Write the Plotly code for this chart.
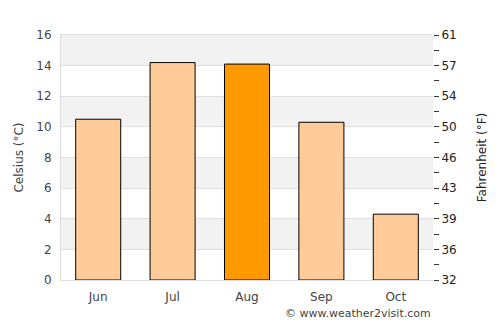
import plotly.graph_objects as go

months = ["Jun", "Jul", "Aug", "Sep", "Oct"]
celsius = [10.5, 14.2, 14.1, 10.3, 4.3]
highlight = "Aug"
c_ticks = [0, 2, 4, 6, 8, 10, 12, 14, 16]
f_labels = ["32", "36", "39", "43", "46", "50", "54", "57", "61"]

light = "#ffcc99"
dark = "#ff9900"
colors = [dark if m == highlight else light for m in months]

fig = go.Figure()
fig.add_trace(go.Bar(x=months, y=celsius, marker=dict(color=colors, line=dict(color="black", width=1)),
                     hoverinfo="skip", showlegend=False))
fig.add_trace(go.Scatter(x=months, y=[c * 1.8 + 32 for c in celsius], yaxis="y2", mode="markers",
                         marker=dict(opacity=0), hoverinfo="skip", showlegend=False))

shapes = []
for lo in range(2, 16, 4):
    shapes.append(dict(type="rect", xref="paper", yref="y", x0=0, x1=1, y0=lo, y1=lo + 2,
                       fillcolor="#f2f2f2", line=dict(width=0), layer="below"))

font = dict(family="DejaVu Sans", size=12, color="#444444")
fig.update_layout(
    width=500, height=325,
    margin=dict(l=61, r=67, t=35, b=45),
    paper_bgcolor="white", plot_bgcolor="white",
    font=font,
    bargap=0.395,
    shapes=shapes,
    xaxis=dict(showline=True, linecolor="#dddddd", mirror=True, ticks="", showgrid=False,
               tickfont=dict(size=12, color="#444444"), ticklabelstandoff=6),
    yaxis=dict(range=[0, 16], tickvals=c_ticks, showgrid=True, gridcolor="#e0e0e0",
               showline=True, linecolor="#dddddd", zeroline=False,
               title=dict(text="Celsius (°C)", standoff=10, font=dict(size=12, color="#444444")),
               tickfont=dict(size=12, color="#444444"), ticklabelstandoff=6),
    yaxis2=dict(overlaying="y", side="right", range=[32, 60.8],
                tickvals=[c * 1.8 + 32 for c in c_ticks], ticktext=f_labels,
                showgrid=False, zeroline=False, ticks="outside", ticklen=5, tickcolor="#333333",
                minor=dict(tickvals=[c * 1.8 + 32 for c in range(1, 16, 2)], ticks="outside",
                           ticklen=5, tickcolor="#333333"),
                title=dict(text="Fahrenheit (°F)", standoff=21, font=dict(size=12, color="#222222")),
                tickfont=dict(size=12, color="#222222")),
    annotations=[dict(text="© www.weather2visit.com", xref="paper", yref="paper", x=1, y=-0.135,
                      xanchor="right", yanchor="middle", showarrow=False,
                      font=dict(size=11, color="#444444"))],
)
fig.write_html("out.html")
